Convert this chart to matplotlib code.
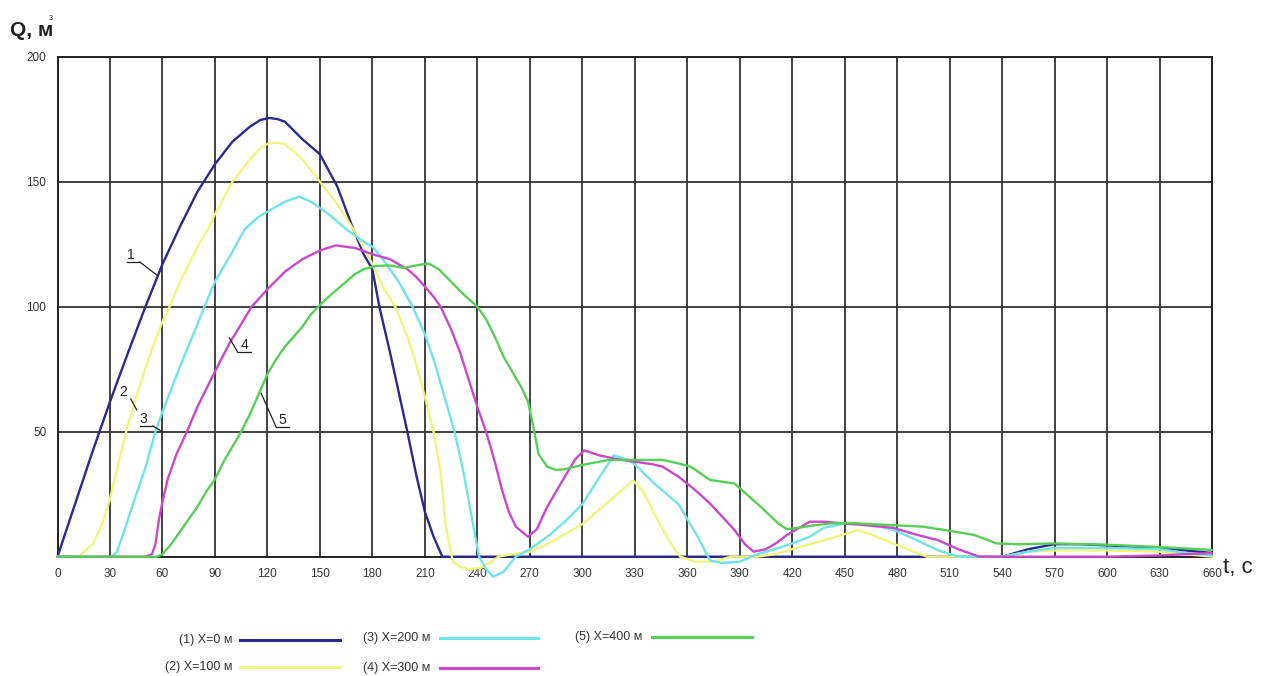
import matplotlib
matplotlib.use('Agg')
import numpy as np
import matplotlib.pyplot as plt

# font: narrow sans like the original drawing, fall back to DejaVu
FONT = ['Liberation Sans Narrow', 'Liberation Sans', 'DejaVu Sans']
plt.rcParams['font.family'] = FONT

# ---------------- data ----------------
t1 = [0, 10, 20, 30, 40, 50, 60, 70, 80, 90, 100, 110, 116, 121, 126, 130, 140, 150, 160,
      168, 175, 180, 184, 190, 195, 200, 205, 210, 215, 220, 540, 555, 570, 585,
      600, 615, 630, 645, 660]
q1 = [0, 21, 42, 62, 81, 99.5, 117, 132, 146, 157, 166, 172, 174.7, 175.5, 175, 174, 167, 161,
      148, 133, 121, 115, 100, 82, 66, 50, 33, 18, 8, 0, 0, 3, 5, 5,
      4.5, 4, 3.5, 2.5, 1.5]

t2 = [0, 12, 20, 25, 30, 35, 40, 45, 50, 55, 60, 64, 70, 80, 86, 90, 100, 110,
      116, 121, 126, 130, 140, 150, 160, 170, 180, 186, 193, 200, 205, 210, 215, 219, 222,
      226, 230, 235, 242, 248, 252, 260, 270, 280, 290, 300, 310, 320, 329, 335, 340,
      345, 350, 356, 365, 375, 385, 400, 410, 420, 430, 440, 450, 457, 465, 475,
      487, 497, 540, 555, 570, 600, 630, 645, 660]
q2 = [0, 0, 5, 12, 23, 38, 52, 64, 75, 85, 94, 100, 110, 124, 131, 137, 150, 159,
      163.5, 165.5, 165.5, 165, 159, 150, 141, 130, 117, 108, 100, 88, 77, 64, 50, 34, 12,
      -2, -4, -5, -4.5, -2, 0, 1, 2, 5, 9, 13, 19, 25, 30.5, 26, 19,
      12, 6, 0, -2, -2, 0, 0, 1, 3, 5, 7, 9, 10.7, 9, 6,
      2.7, 0, 0, 2, 2.5, 2.5, 2, 1, 0]

t3 = [0, 31, 34, 38, 45, 50, 56, 60, 70, 80, 84, 90, 100, 107, 115, 120, 130,
      138, 145, 155, 165, 175, 180, 185, 190, 195, 203, 210, 215, 220, 227, 232,
      237, 241, 245, 249, 255, 262, 270, 280, 290, 300, 310, 318, 325, 330, 340,
      350, 355, 366, 373, 380, 390, 400, 410, 420, 430, 438, 450, 460, 470, 478,
      490, 503, 515, 540, 555, 570, 600, 630, 645, 660]
q3 = [0, 0, 2, 10, 25, 35, 50, 58, 76, 93, 100, 110, 122, 131, 136, 138, 142,
      144, 142, 137, 131, 126, 124, 120, 115, 110, 100, 89, 79, 67, 50, 34,
      15, 0, -5, -8, -6, 0, 3, 8, 14, 21, 32, 40.5, 39, 37, 30,
      24, 21, 8, -1.5, -2.5, -2, 1, 3, 5.3, 8, 11.5, 13.3, 13, 12, 10.7,
      7, 2.7, 0, 0, 2, 3.5, 3.5, 3, 1.5, 0.5]

t4 = [0, 50, 54, 56, 58, 60, 63, 68, 74, 80, 85, 90, 98, 105, 111, 120, 130,
      140, 150, 159, 170, 180, 190, 195, 200, 205, 210, 215, 219, 225, 230, 235,
      240, 245, 250, 254, 258, 262, 269, 274, 280, 290, 296, 301, 310, 320, 330,
      340, 346, 355, 364, 373, 380, 387, 393, 398, 405, 411, 417, 424, 430, 438,
      450, 464, 478, 490, 503, 515, 527, 540, 600, 630, 645, 660]
q4 = [0, 0, 1, 5, 15, 22, 31, 41, 50, 60, 67, 74, 85, 93, 100, 107, 114,
      119, 122.5, 124.5, 123.5, 121, 119, 117, 115, 112, 108, 104, 100, 91, 82, 71,
      60, 50, 38, 27, 18, 12, 8, 11, 20, 32, 39, 42.5, 40.5, 39, 38,
      37, 36, 32, 27, 21.3, 16, 10.7, 5, 2, 3, 5.5, 8.7, 11.5, 14, 14,
      13.3, 12.5, 11.5, 9, 6.7, 3, 0, 0, 0, 0.5, 1, 1.5]

t5 = [0, 57, 60, 65, 70, 75, 80, 85, 90, 95, 100, 105, 110, 115, 120, 125, 130,
      135, 140, 145, 149, 155, 160, 165, 170, 175, 182, 190, 198, 205, 212, 218,
      225, 232, 240, 245, 250, 255, 260, 265, 269, 272, 275, 280, 285, 290, 300,
      315, 330, 346, 355, 362, 373, 387, 402, 412, 417, 423, 432, 442, 453, 466,
      480, 495, 507, 524, 537, 550, 570, 600, 626, 645, 660]
q5 = [0, 0, 1, 5, 10, 15, 20, 26, 31, 38, 44, 50, 57, 65, 73, 79, 84,
      88, 92, 97, 100, 104, 107, 110, 113, 115, 116.3, 116.5, 115.5, 116.5, 117.3, 115,
      110, 105, 100, 95, 88, 80, 74, 68, 62, 52, 41, 36, 34.7, 35, 36.7,
      38.7, 38.7, 38.7, 37.3, 36, 30.7, 29.3, 20, 13.3, 11, 11.5, 12.5, 13.3, 13.5, 13,
      12.5, 12, 10.7, 8.7, 5.3, 5, 5.3, 4.8, 4, 3.3, 2.7]

series_t = [t1, t2, t3, t4, t5]
series_q = [q1, q2, q3, q4, q5]
legend_labels = ['(1) X=0 м', '(2) X=100 м', '(3) X=200 м', '(4) X=300 м', '(5) X=400 м']
colors = ['#2a2a8e', '#f3f37c', '#6fe3ea', '#cc46cc', '#55cf55']

x_ticks = list(range(0, 661, 30))
y_ticks = [50, 100, 150, 200]

# ---------------- figure ----------------
W, H = 1261, 676
fig = plt.figure(figsize=(W / 100, H / 100), dpi=100)

# pixel helpers for layout
def fx(px): return px / W
def fy(py): return 1 - py / H

ax = fig.add_axes([fx(57.5), fy(556.7), fx(1212) - fx(57.5), fy(56.7) - fy(556.7)])
ax.set_xlim(0, 660)
ax.set_ylim(0, 200)

# grid
for xv in x_ticks:
    ax.axvline(xv, color='#333333', lw=1.3, zorder=1)
for yv in y_ticks:
    ax.axhline(yv, color='#333333', lw=1.3, zorder=1)
for s in ax.spines.values():
    s.set_color('#222222')
    s.set_linewidth(1.4)

ax.set_xticks(x_ticks)
ax.set_xticklabels([str(v) for v in x_ticks])
ax.set_yticks(y_ticks)
ax.set_yticklabels([str(v) for v in y_ticks])
ax.tick_params(length=0, labelsize=8.5, pad=8, colors='#333333')

# curves
for tt, qq, c in zip(series_t, series_q, colors):
    ax.plot(tt, qq, color=c, lw=1.7, zorder=3, clip_on=False,
            solid_joinstyle='round', solid_capstyle='round')

# curve number labels with leader lines
def tag(s, tx, ty, ux0, ux1, uy, lx, ly, px, py):
    ax.text(tx, ty, s, fontsize=10, ha='center', va='bottom', color='#222222', zorder=5)
    if ux1 > ux0:
        ax.plot([ux0, ux1], [uy, uy], color='#222222', lw=0.9, zorder=5)
    ax.plot([lx, px], [ly, py], color='#222222', lw=0.9, zorder=5)

tag('1', 42, 117.9, 39.6, 47.0, 117.9, 47.0, 117.9, 56.7, 112.7)
tag('2', 37.3, 63.1, 0, 0, 0, 41.9, 63.1, 45.3, 58.7)
tag('3', 48.9, 52.3, 47.0, 54.5, 52.3, 54.5, 52.3, 60.1, 49.9)
tag('4', 107, 81.8, 103.0, 110.7, 81.8, 103.0, 81.8, 98.3, 87.5)
tag('5', 128.7, 52.0, 124.9, 132.5, 52.0, 124.9, 52.0, 116.4, 65.4)

# axis titles
fig.text(fx(10), fy(30), 'Q, м', fontsize=15, fontweight='bold', color='#222222',
         va='center', ha='left')
fig.text(fx(49), fy(19), '3', fontsize=5, color='#222222', va='center', ha='left')
fig.text(fx(1223), fy(568), 't, с', fontsize=16, color='#222222', va='center', ha='left')

# hand-placed legend below the plot
legend_pos = [(232, 240, 340, 640), (232, 240, 340, 667), (430, 440, 538, 638),
              (430, 440, 538, 668), (642, 652, 752, 637)]
for lab, c, (tx, l0, l1, yy) in zip(legend_labels, colors, legend_pos):
    fig.text(fx(tx), fy(yy), lab, fontsize=9, color='#333333', ha='right', va='center')
    fig.add_artist(plt.Line2D([fx(l0), fx(l1)], [fy(yy), fy(yy)], color=c, lw=2.2))

fig.savefig('out.png', dpi=100)
